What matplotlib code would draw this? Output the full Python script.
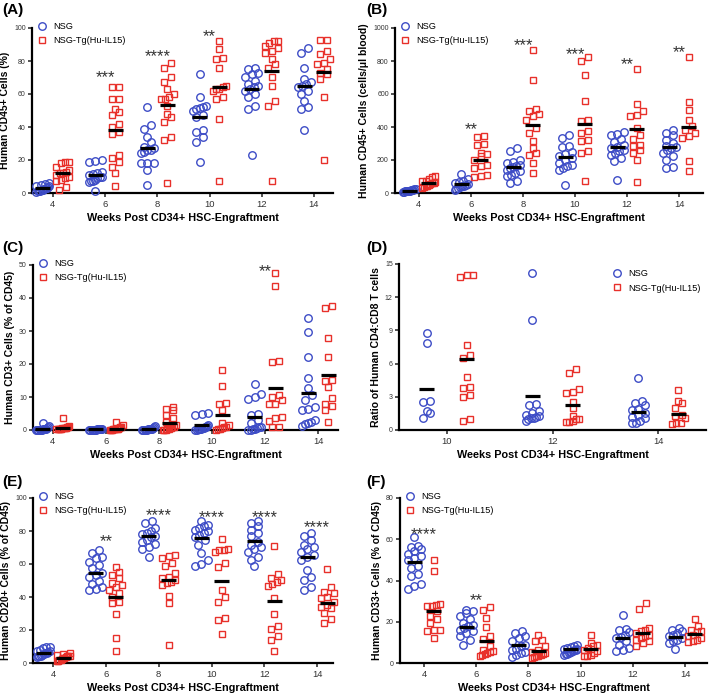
import numpy as np
import matplotlib
matplotlib.use('Agg')
import matplotlib.pyplot as plt

plt.rcParams['font.family'] = ['Liberation Sans', 'DejaVu Sans']

BLUE = '#3D4CC6'
RED = '#E8302A'
W, H = 709, 694

weeks = [4, 6, 8, 10, 12, 14]
weeks_d = [10, 12, 14]

# (A) human CD45+ cells (%)
a_nsg = [[6, 5.5, 5, 4.5, 4, 3.5, 3, 3, 2.5, 2, 2, 1.5, 1, 1, 0.5],
         [20, 19.5, 19, 13, 12, 11.5, 11, 10, 9.5, 9, 8, 7.5, 7, 6.5, 1],
         [52, 41, 39, 34, 31, 28, 27, 26, 26, 25, 24, 18, 18, 18, 14, 5],
         [72, 58, 53, 52, 51.5, 51, 50, 47, 46, 38, 37, 34, 31, 19],
         [76, 75, 73, 72, 70, 68, 66, 65, 64, 63, 62, 60, 58, 53, 51, 23],
         [88, 85, 76, 69, 67, 66, 65, 64, 62, 60, 56, 52, 51, 38]]
a_il = [[19, 18.5, 18, 16, 14, 13, 12, 12, 11, 10, 9, 8, 7, 3.5, 2],
        [64, 64, 57, 57, 51, 49, 47, 42, 40, 37, 36, 23, 21, 19, 16, 12, 4],
        [79, 76, 70, 67, 63, 60, 58, 57, 57, 53, 48, 46, 43, 34, 32, 6],
        [92, 87, 82, 81, 76, 65, 64, 63, 63, 62, 58, 57, 45, 7],
        [92, 92, 91, 89, 88, 86, 85, 81, 78, 76, 70, 65, 56, 53, 7],
        [93, 93, 86, 84, 81, 79, 78, 75, 73, 72, 69, 58, 20]]
a_nsg_mean = [2.8, 10.7, 27.5, 46, 63, 65]
a_il_mean = [12, 38, 53.5, 64, 74, 73.5]
a_stars = {6: '***', 8: '****', 10: '**'}
a_star_y = {6: 73, 8: 86, 10: 98}

# (B) human CD45+ cells per ul blood
b_nsg = [[25, 22, 20, 18, 16, 15, 14, 12, 12, 10, 10, 8, 5],
         [117, 82, 75, 68, 62, 55, 50, 45, 40, 35, 30, 25, 20],
         [273, 255, 200, 190, 182, 172, 162, 155, 150, 141, 131, 120, 111, 101, 70, 60],
         [354, 333, 283, 277, 246, 236, 226, 212, 202, 182, 172, 162, 152, 141, 50],
         [370, 360, 350, 330, 310, 290, 280, 270, 262, 252, 242, 232, 212, 192, 81],
         [384, 364, 354, 323, 303, 283, 277, 273, 263, 242, 222, 202, 155, 150]]
b_il = [[105, 95, 85, 75, 70, 65, 60, 58, 55, 50, 45, 40, 35, 30],
        [345, 337, 295, 290, 242, 236, 222, 200, 172, 162, 150, 111, 101, 95],
        [869, 687, 510, 495, 480, 465, 444, 394, 364, 313, 273, 242, 232, 182, 121],
        [824, 798, 717, 556, 444, 434, 374, 364, 323, 313, 253, 242, 70],
        [752, 541, 495, 475, 465, 394, 354, 327, 293, 283, 262, 242, 202, 65],
        [824, 552, 505, 444, 404, 384, 363, 343, 333, 196, 131]]
b_nsg_mean = [15, 55, 157, 216, 276, 278]
b_il_mean = [60, 202, 410, 418, 390, 400]
b_stars = {6: '**', 8: '***', 10: '***', 12: '**', 14: '**'}
b_star_y = {6: 414, 8: 925, 10: 873, 12: 812, 14: 883}

# (C) human CD3+ cells (% of CD45)
c_nsg = [[2.2, 1.2, 0.8, 0.5, 0.4, 0.3, 0.2, 0.2, 0.1, 0.1, 0.1, 0, 0, 0],
         [0.3, 0.3, 0.2, 0.2, 0.2, 0.2, 0.1, 0.1, 0.1, 0.1, 0.1, 0.1, 0.1],
         [1.2, 0.8, 0.5, 0.4, 0.3, 0.2, 0.2, 0.2, 0.1, 0.1, 0.1, 0.1, 0.1],
         [5.2, 4.8, 4.5, 1.5, 1.2, 1.0, 0.8, 0.6, 0.5, 0.4, 0.3, 0.2, 0.2, 0.1, 0.1],
         [14, 11, 10, 9.5, 4.7, 4.5, 3.0, 2.0, 1.0, 0.8, 0.5, 0.3, 0.2, 0.1, 0.1],
         [34, 29.8, 22, 15.7, 12.8, 10.5, 9, 7, 6.5, 6, 3, 2.5, 2, 1.8, 1.3]]
c_il = [[3.5, 1.2, 1.0, 0.8, 0.7, 0.6, 0.5, 0.5, 0.4, 0.3, 0.3, 0.2, 0.2],
        [2.5, 1.5, 1.0, 0.8, 0.5, 0.4, 0.3, 0.3, 0.2, 0.2, 0.1, 0.1, 0.1],
        [7.0, 6.5, 6.0, 4.5, 3.5, 2.5, 1.5, 1.0, 0.8, 0.5, 0.3, 0.2, 0.1, 0.1, 0.1],
        [18.3, 13.3, 8.3, 8.0, 6.0, 2.2, 1.5, 1.0, 0.8, 0.5, 0.3, 0.2, 0.1],
        [47.5, 43.5, 21, 20.5, 10.7, 10, 9, 8, 7.8, 4, 3.5, 2.7, 1.0, 0.8],
        [37.5, 37, 28, 22, 15.2, 15, 13, 9.8, 8, 7.2, 6, 2.3]]
c_nsg_mean = [0.4, 0.2, 0.3, 1.4, 3.8, 11.1]
c_il_mean = [0.7, 0.4, 2.0, 4.5, 12.6, 16.7]
c_stars = {12: '**'}
c_star_y = {12: 49.5}

# (D) CD4:CD8 ratio
d_nsg = [[8.8, 7.9, 2.65, 2.55, 1.7, 1.5, 1.05],
         [14.15, 9.95, 2.35, 2.3, 1.7, 1.55, 1.35, 1.3, 1.2, 1.1, 1.05, 1.0, 0.8],
         [4.7, 2.65, 2.4, 2.25, 1.9, 1.8, 1.55, 1.35, 1.2, 1.05, 0.85, 0.65, 0.6]]
d_il = [[14.05, 14.0, 13.8, 7.65, 6.8, 6.5, 4.8, 3.9, 3.8, 3.15, 3.0, 0.95, 0.8],
        [5.5, 5.15, 3.7, 3.4, 3.35, 2.5, 1.95, 1.25, 1.0, 0.95, 0.8, 0.75, 0.7],
        [3.6, 2.65, 2.4, 1.95, 1.35, 1.25, 1.05, 0.65, 0.6, 0.55]]
d_nsg_mean = [3.75, 3.1, 1.6]
d_il_mean = [6.4, 2.25, 1.45]

# (E) human CD20+ cells (% of CD45)
e_nsg = [[10, 9.5, 9, 8, 7.5, 7, 6.5, 6, 6, 5.5, 5, 4.5, 4, 4, 3.5],
         [68.5, 66.5, 64.5, 63.5, 61.5, 59.4, 57.4, 54.4, 53.3, 52, 50, 47.9, 46, 45, 44.2],
         [86, 84.8, 81.7, 80, 79, 78.3, 77, 76.3, 74.6, 73.6, 72.2, 70.6, 69.2, 64.5],
         [85.8, 83.8, 82.8, 81.7, 80.7, 79.7, 78.7, 77.7, 76.3, 74.6, 71.6, 66.5, 62.5, 60, 59],
         [85.8, 84.8, 82.8, 80.7, 78.7, 76.7, 73.6, 71.6, 70.2, 69, 67, 64.5, 62.5, 58.8],
         [78.7, 76.7, 74.6, 71.6, 70.2, 69, 67.5, 65.5, 64.1, 62.5, 56.4, 52, 50.3, 46.2, 44.2]]
e_il = [[6, 5.5, 5, 4.5, 4, 4, 3.5, 3, 3, 2.5, 2, 2, 1.5, 1],
        [58, 55.4, 53.3, 51.3, 48.3, 47.3, 46.2, 44.2, 42.2, 40.2, 37, 36.1, 29.6, 15.2, 7.1],
        [65.5, 64.9, 63.5, 60.4, 58.8, 54.4, 52.3, 51.3, 50.3, 49.3, 48.7, 47.3, 40.6, 36.5, 11.2],
        [75.3, 69, 68.6, 68.2, 67.5, 60.8, 58.4, 44.2, 40.2, 37.1, 27, 26, 17.8],
        [71.2, 53.8, 51.7, 50.3, 48.9, 47.9, 46.7, 39.1, 29.6, 22.5, 20.9, 16.2, 13.8, 7.3],
        [56.8, 46.2, 43.2, 42.2, 40.2, 39.1, 37.1, 35.1, 34.1, 33.1, 30.4, 26.4, 24.5]]
e_nsg_mean = [6.1, 54.5, 76.7, 75.5, 74, 64]
e_il_mean = [3, 40, 50.5, 50, 37.6, 36.5]
e_stars = {6: '**', 8: '****', 10: '****', 12: '****', 14: '****'}
e_star_y = {6: 76.7, 8: 92.5, 10: 91.5, 12: 91, 14: 85}

# (F) human CD33+ cells (% of CD45)
f_nsg = [[61, 56.9, 56.2, 55.3, 54.1, 53, 51.7, 50.9, 50.1, 46.8, 46, 43.3, 42, 38.5, 37.2, 35.9],
         [25.8, 25, 24.2, 22.6, 21.3, 19.4, 18.6, 17.8, 17, 15.8, 15.3, 14.5, 12.9, 11.3, 8.9],
         [15.3, 14.5, 13.2, 12.1, 10.5, 8.9, 8.1, 6.8, 6.1, 5.3, 4.8, 4, 2.7],
         [8.9, 8.4, 7.8, 7.3, 7.0, 6.8, 6.5, 6.1, 5.7, 5.5, 5.2, 4.8, 4.5, 4.2, 4],
         [23.1, 16.5, 15.8, 14.9, 13.7, 12.6, 12.1, 10.5, 8.9, 7.3, 6.5, 5.7],
         [17, 16.2, 15.3, 14.5, 13.7, 12.9, 12.1, 11.3, 10.5, 9.7, 6.8]]
f_il = [[49.8, 44.4, 28.8, 28.3, 27.8, 27.5, 25, 22.6, 21.3, 19.4, 16.2, 15.8, 15.3, 12.1],
        [27.1, 25.5, 21.8, 17.3, 12.9, 11.6, 8.1, 6.5, 5.7, 5.2, 4.8, 4.5, 4.0, 3.6],
        [13.7, 11.3, 10.5, 8.1, 6.5, 5.3, 4.8, 4.4, 4, 3.6, 3.2, 2.9, 2.4],
        [13.7, 9.7, 8.9, 8.1, 7.3, 6.5, 5.7, 4.8, 4.0, 3.6, 3.2],
        [29.1, 26.3, 17, 16.2, 15.3, 14.5, 13.7, 12.9, 12.1, 11.3, 10.5, 9.7, 8.1],
        [21.5, 18.1, 16.2, 15.3, 14.9, 13.7, 12.9, 12.1, 11.3, 10.5, 10]]
f_nsg_mean = [49, 17.5, 8.5, 6.8, 12, 12.5]
f_il_mean = [25.3, 10.8, 5.9, 7, 14.5, 14]
f_stars = {4: '****', 6: '**'}
f_star_y = {4: 64.6, 6: 32.6}

XLABEL = 'Weeks Post CD34+ HSC-Engraftment'

fig = plt.figure(figsize=(W / 100, H / 100), dpi=100)


def add_axes(l, r, t, b):
    return fig.add_axes([l / W, 1 - b / H, (r - l) / W, (b - t) / H])


def swarm(ax, vals, center, d=7.0, maxw=6.5):
    # spread points of similar value sideways, GraphPad style rows
    pos = ax.get_position()
    x0, x1 = ax.get_xlim()
    y0, y1 = ax.get_ylim()
    upx = (x1 - x0) / (pos.width * W)
    upy = (y1 - y0) / (pos.height * H)
    vals = np.asarray(vals, float)
    order = np.argsort(vals)
    rows, cur = [], []
    for i in order:
        if cur and (vals[i] - vals[cur[0]]) / upy > d * 0.85:
            rows.append(cur)
            cur = []
        cur.append(i)
    rows.append(cur)
    xs = np.zeros(len(vals))
    for r in rows:
        n = len(r)
        step = d
        if n > 1 and (n - 1) * step / 2 > maxw:
            step = 2 * maxw / (n - 1)
        for k, i in enumerate(r):
            xs[i] = center + (k - (n - 1) / 2) * step * upx
    return xs, upx


def panel(ax, xs, nsg, il, nsg_mean, il_mean, xlim, ylim, yticks, ylabel,
          stars=None, star_y=None, off=0.38, legend='upper left'):
    ax.set_xlim(*xlim)
    ax.set_ylim(*ylim)
    for k, x in enumerate(xs):
        for vals, m, c, mk, ms, dx in ((nsg[k], nsg_mean[k], BLUE, 'o', 5.4, -off),
                                       (il[k], il_mean[k], RED, 's', 5.0, off)):
            px, upx = swarm(ax, vals, x + dx)
            ax.plot(px, vals, mk, mfc='none', mec=c, ms=ms, mew=1.0,
                    zorder=3, clip_on=False,
                    label=('NSG' if c == BLUE else 'NSG-Tg(Hu-IL15)') if k == 0 else None)
            hw = 7.5 * upx
            ax.plot([x + dx - hw, x + dx + hw], [m, m], color='black', lw=2.3,
                    solid_capstyle='butt', zorder=4, clip_on=False)
    if stars:
        for x, s in stars.items():
            ax.annotate(s, (x, star_y[x]), xytext=(0, -7), textcoords='offset points',
                        ha='center', va='baseline', fontsize=12, color='#333333')
    ax.set_xticks(xs)
    ax.set_yticks(yticks)
    for side in ('top', 'right'):
        ax.spines[side].set_visible(False)
    for side in ('left', 'bottom'):
        ax.spines[side].set_linewidth(1.6)
    ax.tick_params(axis='both', direction='out', length=3, width=1.2, colors='#333333')
    ax.tick_params(axis='x', labelsize=6.8, pad=2)
    ax.tick_params(axis='y', labelsize=5, pad=1.5)
    ax.set_xlabel(XLABEL, fontsize=7.8, fontweight='bold', labelpad=3)
    ax.set_ylabel(ylabel, fontsize=7.5, fontweight='bold', labelpad=3)
    if legend == 'upper left':
        ax.legend(loc='upper left', bbox_to_anchor=(0.0, 1.07), frameon=False,
                  fontsize=6.6, handlelength=1.0, handletextpad=0.7,
                  labelspacing=0.55, borderaxespad=0.2)
    else:
        ax.legend(loc='upper right', bbox_to_anchor=(1.0, 1.0), frameon=False,
                  fontsize=6.6, handlelength=1.0, handletextpad=0.7,
                  labelspacing=0.55, borderaxespad=0.2)


axA = add_axes(32, 333, 28, 193)
panel(axA, weeks, a_nsg, a_il, a_nsg_mean, a_il_mean, (3.2, 14.73), (0, 100),
      range(0, 101, 20), 'Human CD45+ Cells (%)', a_stars, a_star_y)

axB = add_axes(395, 703, 28, 193)
panel(axB, weeks, b_nsg, b_il, b_nsg_mean, b_il_mean, (3.08, 14.92), (0, 1000),
      range(0, 1001, 200), 'Human CD45+ Cells (cells/\u03bcl blood)', b_stars, b_star_y)

axC = add_axes(33, 338, 265, 430)
panel(axC, weeks, c_nsg, c_il, c_nsg_mean, c_il_mean, (3.25, 14.75), (0, 50),
      range(0, 51, 10), 'Human CD3+ Cells (% of CD45)', c_stars, c_star_y)

axD = add_axes(399, 706, 264, 430)
panel(axD, weeks_d, d_nsg, d_il, d_nsg_mean, d_il_mean, (9.1, 14.9), (0, 15),
      range(0, 16, 3), 'Ratio of Human CD4:CD8 T cells', legend='upper right')

axE = add_axes(33, 333, 498, 663)
panel(axE, weeks, e_nsg, e_il, e_nsg_mean, e_il_mean, (3.24, 14.6), (0, 100),
      range(0, 101, 20), 'Human CD20+ Cells (% of CD45)', e_stars, e_star_y)

axF = add_axes(400, 707, 498, 663)
panel(axF, weeks, f_nsg, f_il, f_nsg_mean, f_il_mean, (3.08, 14.84), (0, 80),
      range(0, 81, 20), 'Human CD33+ Cells (% of CD45)', f_stars, f_star_y)

for lab, x, y in (('(A)', 2, 10), ('(B)', 366, 10), ('(C)', 2, 248),
                  ('(D)', 366, 248), ('(E)', 2, 482), ('(F)', 366, 482)):
    fig.text(x / W, 1 - y / H, lab, fontsize=11, fontweight='bold', va='center', ha='left')

fig.savefig('out.png', dpi=100)
